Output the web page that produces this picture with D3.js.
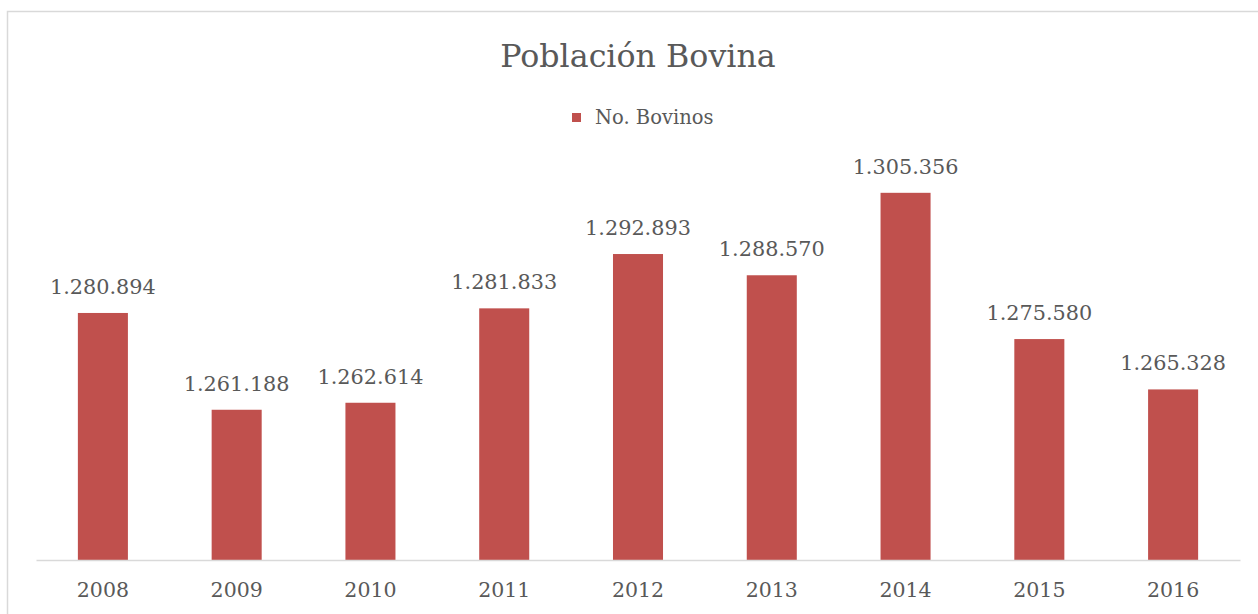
<!DOCTYPE html>
<html>
<head>
<meta charset="utf-8">
<script src="https://cdn.jsdelivr.net/npm/d3@7"></script>
<style>
    body { margin: 0; background: #fff; }
    svg { display: block; }
    .chart-text { font-family: 'DejaVu Serif', serif; fill: #595959; }
</style>
</head>
<body>
<div id="chart"></div>
<script>
// Data
const years = ['2008', '2009', '2010', '2011', '2012', '2013', '2014', '2015', '2016'];
const bovinos = [1280894, 1261188, 1262614, 1281833, 1292893, 1288570, 1305356, 1275580, 1265328];
const valueAxisRange = [1230600, 1310000];
const seriesName = 'No. Bovinos';
const chartTitle = 'Población Bovina';

const width = 1258;
const height = 614;
const barColor = '#C0504D';

// Thousands separator with dots
const formatValue = d => d3.format(',')(d).replace(/,/g, '.');

const svg = d3.select('#chart')
    .append('svg')
    .attr('width', width)
    .attr('height', height);

// Chart frame
svg.append('rect')
    .attr('x', 7.5)
    .attr('y', 11.5)
    .attr('width', 1262)
    .attr('height', 620)
    .attr('fill', '#fff')
    .attr('stroke', '#d9d9d9')
    .attr('stroke-width', 1.5);

const plot = { left: 36, right: 1240, top: 170, bottom: 560 };

const x = d3.scaleBand()
    .domain(years)
    .range([plot.left, plot.right])
    .paddingInner(0.626)
    .paddingOuter(0.313);

const y = d3.scaleLinear()
    .domain(valueAxisRange)
    .range([plot.bottom, plot.top]);

// Bars
svg.append('g')
    .selectAll('rect')
    .data(bovinos)
    .join('rect')
    .attr('x', (d, i) => x(years[i]))
    .attr('y', d => y(d))
    .attr('width', x.bandwidth())
    .attr('height', d => y(valueAxisRange[0]) - y(d))
    .attr('fill', barColor);

// Category axis
const xAxis = svg.append('g')
    .attr('transform', `translate(0,${plot.bottom})`)
    .call(d3.axisBottom(x).tickSize(0).tickPadding(22));

xAxis.select('.domain')
    .attr('stroke', '#d9d9d9')
    .attr('stroke-width', 1.5);

xAxis.selectAll('text')
    .attr('class', 'chart-text')
    .style('font-size', '20.5px')
    .attr('fill', '#595959');

// Value labels
svg.append('g')
    .selectAll('text')
    .data(bovinos)
    .join('text')
    .attr('class', 'chart-text')
    .attr('x', (d, i) => x(years[i]) + x.bandwidth() / 2)
    .attr('y', d => y(d) - 19)
    .attr('text-anchor', 'middle')
    .style('font-size', '20.8px')
    .text(d => formatValue(d));

// Title
svg.append('text')
    .attr('class', 'chart-text')
    .attr('x', 638)
    .attr('y', 67)
    .attr('text-anchor', 'middle')
    .style('font-size', '31.7px')
    .text(chartTitle);

// Legend
const legend = svg.append('g')
    .attr('transform', 'translate(572,113)');

legend.append('rect')
    .attr('width', 9)
    .attr('height', 9)
    .attr('fill', barColor);

legend.append('text')
    .attr('class', 'chart-text')
    .attr('x', 23)
    .attr('y', 11)
    .style('font-size', '19.5px')
    .text(seriesName);
</script>
</body>
</html>
